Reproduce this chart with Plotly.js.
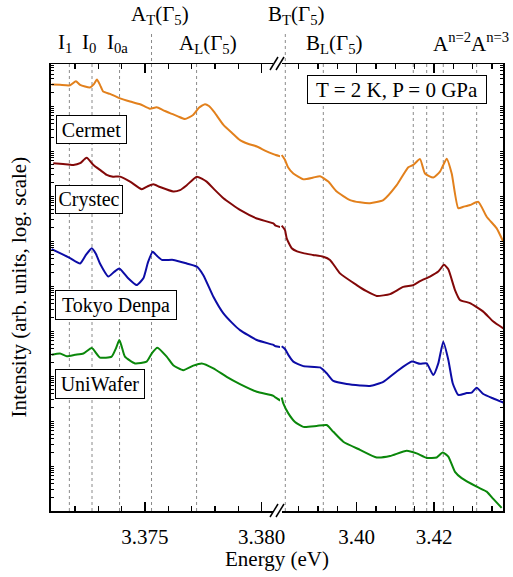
<!DOCTYPE html>
<html><head><meta charset="utf-8">
<script src="https://cdn.plot.ly/plotly-3.0.1.min.js"></script>
<style>html,body{margin:0;padding:0;background:#fff}#chart{width:513px;height:577px}</style>
</head><body><div id="chart"></div>
<script>
// ---- data (energy in eV, intensity as log10 of arbitrary units) ----
const cermetE = [3.37100,3.37136,3.37179,3.37204,3.37222,3.37264,3.37282,3.37294,3.37307,3.37321,3.37350,3.37393,3.37436,3.37479,3.37521,3.37550,3.37577,3.37607,3.37641,3.37671,3.37706,3.37731,3.37757,3.37774,3.37796,3.37836,3.37873,3.37907,3.37941,3.37979,3.38014,3.38050,3.38060,3.38145,3.38223,3.38360,3.38619,3.38877,3.39051,3.39265,3.39483,3.39827,3.40085,3.40344,3.40688,3.41035,3.41335,3.41464,3.41638,3.41767,3.41982,3.42155,3.42328,3.42458,3.42628,3.42758,3.42931,3.43146,3.43363,3.43622,3.43793];
const cermetLogI = [9.48,9.47,9.46,9.55,9.47,9.41,9.49,9.59,9.47,9.32,9.27,9.17,9.10,9.04,8.94,8.97,8.91,8.84,8.77,8.71,8.80,8.96,9.04,9.00,8.87,8.58,8.40,8.24,8.16,8.10,8.01,7.93,7.91,7.80,7.64,7.50,7.37,7.41,7.44,7.32,7.10,6.91,6.86,6.84,6.91,7.24,7.64,7.69,7.82,7.50,7.41,7.54,7.83,7.50,6.73,6.76,6.80,6.87,6.54,6.28,5.98];

const crystecE = [3.37107,3.37149,3.37193,3.37222,3.37250,3.37279,3.37307,3.37336,3.37363,3.37393,3.37436,3.37486,3.37509,3.37536,3.37564,3.37621,3.37650,3.37679,3.37722,3.37764,3.37800,3.37836,3.37873,3.37907,3.37979,3.38050,3.38060,3.38145,3.38189,3.38319,3.38456,3.38619,3.38870,3.39136,3.39309,3.39568,3.40000,3.40241,3.40517,3.40862,3.41206,3.41464,3.41638,3.41896,3.42111,3.42259,3.42370,3.42543,3.42672,3.42931,3.43275,3.43534,3.43793];
const crystecLogI = [7.73,7.71,7.69,7.73,7.85,7.69,7.58,7.47,7.43,7.43,7.32,7.15,7.21,7.26,7.20,7.10,7.13,7.24,7.43,7.32,7.13,6.95,6.81,6.69,6.50,6.39,6.34,6.24,6.06,5.84,5.77,5.73,5.69,5.65,5.58,5.28,5.02,4.89,4.78,4.82,4.98,5.02,5.11,5.21,5.32,5.47,5.37,4.91,4.69,4.62,4.43,4.21,4.06];

const tokyoE = [3.37100,3.37136,3.37179,3.37222,3.37247,3.37272,3.37290,3.37307,3.37343,3.37367,3.37390,3.37428,3.37464,3.37493,3.37513,3.37533,3.37551,3.37572,3.37621,3.37679,3.37722,3.37750,3.37793,3.37836,3.37873,3.37907,3.37979,3.38050,3.38060,3.38145,3.38231,3.38360,3.38619,3.39051,3.39224,3.39395,3.39741,3.40085,3.40344,3.40688,3.41035,3.41423,3.41638,3.41811,3.41982,3.42111,3.42240,3.42370,3.42484,3.42628,3.42846,3.42975,3.43104,3.43275,3.43534,3.43793];
const tokyoLogI = [5.82,5.73,5.62,5.50,5.69,5.84,5.71,5.50,5.21,5.31,5.39,5.17,5.02,5.17,5.53,5.76,5.67,5.58,5.58,5.50,5.43,5.24,4.76,4.39,4.18,4.02,3.80,3.69,3.66,3.60,3.47,3.32,3.22,3.19,3.06,2.89,2.82,2.79,2.78,2.87,3.10,3.32,3.27,3.28,3.02,3.28,3.76,3.36,2.84,2.58,2.62,2.63,2.74,2.60,2.50,2.41];

const uniE = [3.37100,3.37136,3.37165,3.37200,3.37236,3.37272,3.37307,3.37357,3.37376,3.37390,3.37401,3.37414,3.37457,3.37507,3.37530,3.37553,3.37593,3.37621,3.37664,3.37707,3.37743,3.37793,3.37850,3.37907,3.37979,3.38050,3.38060,3.38101,3.38231,3.38404,3.38619,3.38965,3.39224,3.39395,3.39653,3.40085,3.40517,3.40862,3.41294,3.41552,3.41811,3.42070,3.42225,3.42370,3.42543,3.42716,3.43104,3.43363,3.43534,3.43751];
const uniLogI = [3.47,3.50,3.44,3.47,3.50,3.62,3.41,3.43,3.62,3.80,3.64,3.43,3.28,3.32,3.51,3.63,3.43,3.24,3.13,3.23,3.28,3.17,2.98,2.82,2.65,2.56,2.52,2.39,2.17,1.98,1.87,1.89,1.91,1.76,1.54,1.36,1.19,1.22,1.34,1.28,1.18,1.19,1.30,1.21,0.87,0.73,0.54,0.43,0.27,0.07];

const sampleNames = ['Cermet','Crystec','Tokyo Denpa','UniWafer'];
const sampleColors = ['#E2801C','#820808','#0C0CA6','#0A870A'];

// marker lines (energy, eV)
const leftLineE = [3.37176,3.37273,3.37391,3.37528,3.37721];
const rightLineE = [3.38153,3.39136,3.41464,3.41811,3.42240,3.43104];
const tallLineE = [3.37528,3.38153]; // A_T and B_T lines reach the labels

const topLabels = ['I<sub>1</sub>','I<sub>0</sub>','I<sub>0a</sub>','A<sub>T</sub>(Γ<sub>5</sub>)','A<sub>L</sub>(Γ<sub>5</sub>)','B<sub>T</sub>(Γ<sub>5</sub>)','B<sub>L</sub>(Γ<sub>5</sub>)','A<sup>n=2</sup>','A<sup>n=3</sup>'];

// ---- geometry ----
const W=513,H=577,PL=51,PR=503,PT=64,PB=511;
const px = x => (x-PL)/(PR-PL);
const py = y => (PB-y)/(PB-PT);
const brk = px(280);
const FONT = 'Liberation Serif';
const leftRange = [3.370973,3.380784], rightRange = [3.380155,3.437853];

const series = [[cermetE,cermetLogI],[crystecE,crystecLogI],[tokyoE,tokyoLogI],[uniE,uniLogI]];
const traces = [];
series.forEach((s,i)=>{
  const parts = [
    {ax:['x','y'], keep:e=>e<=3.3815},
    {ax:['x2','y2'], keep:e=>e>=3.38055}
  ];
  parts.forEach(p=>{
    const xs=[], ys=[];
    s[0].forEach((e,k)=>{ if(p.keep(e)){ xs.push(e); ys.push(Math.pow(10,s[1][k])); } });
    traces.push({x:xs, y:ys, xaxis:p.ax[0], yaxis:p.ax[1], type:'scatter', mode:'lines',
      name:sampleNames[i], showlegend:false, hoverinfo:'skip',
      line:{color:sampleColors[i], width:2, shape:'spline', smoothing:0.5}});
  });
});

const shapes = [];
const dotLine = {color:'#8a8a8a', width:1, dash:'dot'};
leftLineE.forEach(e=>shapes.push({type:'line', xref:'x', yref:'paper', x0:e, x1:e, y0:0, y1: tallLineE.includes(e)? py(32):1, line:dotLine, layer:'below'}));
rightLineE.forEach(e=>shapes.push({type:'line', xref:'x2', yref:'paper', x0:e, x1:e, y0:0, y1: tallLineE.includes(e)? py(32):1, line:dotLine, layer:'below'}));
// axis break marks
[511,64].forEach(yb=>{
  shapes.push({type:'rect', xref:'paper', yref:'paper', x0:px(273), x1:px(282), y0:py(yb+2.5), y1:py(yb-2.5), fillcolor:'#fff', line:{width:0}, layer:'above'});
  shapes.push({type:'line', xref:'paper', yref:'paper', x0:px(270), x1:px(278), y0:py(yb+6), y1:py(yb-7), line:{color:'#000', width:1.5}});
  shapes.push({type:'line', xref:'paper', yref:'paper', x0:px(276), x1:px(284), y0:py(yb+6), y1:py(yb-7), line:{color:'#000', width:1.5}});
});

const ann = [];
function box(text, cx, cy, w, h, size){
  ann.push({xref:'paper', yref:'paper', x:px(cx), y:py(cy), xanchor:'center', yanchor:'middle',
    text:text, showarrow:false, bordercolor:'#000', borderwidth:1, borderpad:0, bgcolor:'#fff',
    width:w-2, height:h-2, font:{family:FONT, size:size, color:'#000'}});
}
box(sampleNames[0], 91.5, 129.5, 71, 29, 20);
box(sampleNames[1], 89, 199.5, 68, 29, 20);
box(sampleNames[2], 116, 305, 122, 30, 20);
box(sampleNames[3], 100, 384, 90, 30, 20);
box('T = 2 K, P = 0 GPa', 397, 89.5, 180, 29, 21);

const labelPos = [[65,43],[89,43],[117,43],[160,15],[207.5,44],[295.5,15],[333.5,44],[452,43],[490,43]];
topLabels.forEach((t,i)=>ann.push({xref:'paper', yref:'paper', x:px(labelPos[i][0]), y:py(labelPos[i][1]),
  xanchor:'center', yanchor:'middle', text:t, showarrow:false, font:{family:FONT, size:21, color:'#000'}}));

ann.push({xref:'paper', yref:'paper', x:px(277), y:py(559), xanchor:'center', yanchor:'middle',
  text:'Energy (eV)', showarrow:false, font:{family:FONT, size:21, color:'#000'}});
ann.push({xref:'paper', yref:'paper', x:px(18), y:py(287.5), xanchor:'center', yanchor:'middle', textangle:-90,
  text:'Intensity (arb. units, log. scale)', showarrow:false, font:{family:FONT, size:21, color:'#000'}});

const xCommon = {showline:true, linecolor:'#000', linewidth:1.5, mirror:'ticks', ticks:'inside', ticklen:9, tickwidth:1.5,
  tickcolor:'#000', showgrid:false, zeroline:false, ticklabelstandoff:6, tickfont:{family:FONT, size:21, color:'#000'}, fixedrange:true};
const yCommon = {type:'log', range:[0, (PB-PT)/45], showline:true, linecolor:'#000', linewidth:2, ticks:'inside', ticklen:3,
  tickwidth:1, tickcolor:'#000', dtick:'D1', showticklabels:false, showgrid:false, zeroline:false, fixedrange:true};

const layout = {
  width:W, height:H, margin:{l:PL, r:W-PR, t:PT, b:H-PB}, paper_bgcolor:'#fff', plot_bgcolor:'#fff',
  showlegend:false, font:{family:FONT, color:'#000'},
  xaxis:Object.assign({}, xCommon, {domain:[0,brk], range:leftRange, anchor:'y', tickmode:'linear', tick0:3.375, dtick:0.005, tickformat:'.3f',
    minor:{ticks:'inside', ticklen:5, tickwidth:1.2, tickcolor:'#000', tickmode:'linear', tick0:3.371, dtick:0.001, showgrid:false}}),
  xaxis2:Object.assign({}, xCommon, {domain:[brk,1], range:rightRange, anchor:'y2', tickmode:'linear', tick0:3.40, dtick:0.02, tickformat:'.2f',
    minor:{ticks:'inside', ticklen:5, tickwidth:1.2, tickcolor:'#000', tickmode:'linear', tick0:3.40, dtick:0.005, showgrid:false}}),
  yaxis:Object.assign({}, yCommon, {anchor:'x', side:'left', mirror:false}),
  yaxis2:Object.assign({}, yCommon, {anchor:'x2', side:'right', mirror:false, matches:'y'}),
  shapes:shapes, annotations:ann
};
Plotly.newPlot('chart', traces, layout, {staticPlot:true, displayModeBar:false});
</script></body></html>
